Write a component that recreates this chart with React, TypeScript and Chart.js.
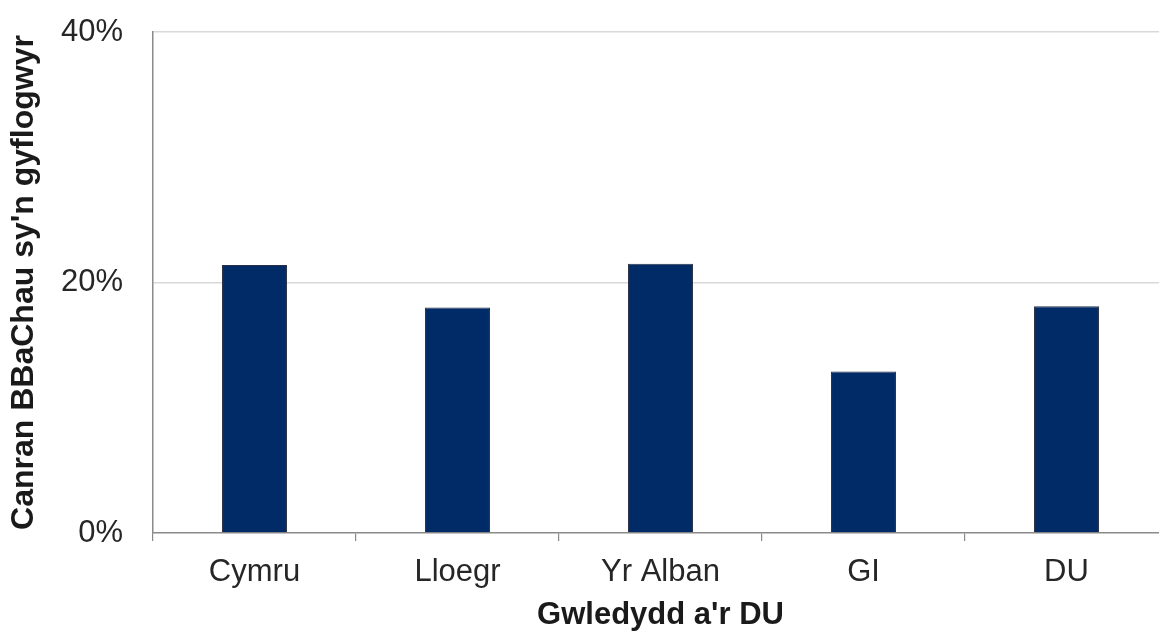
import React, { useEffect, useRef } from "react";
import { Chart, registerables } from "chart.js";

Chart.register(...registerables);

const categories = ["Cymru", "Lloegr", "Yr Alban", "GI", "DU"];
const values = [21.4, 18.0, 21.5, 12.9, 18.1];
const yTicks = [0, 20, 40];
const xTitle = "Gwledydd a'r DU";
const yTitle = "Canran BBaChau sy'n gyflogwyr";

export default function App() {
  const ref = useRef<HTMLCanvasElement | null>(null);
  useEffect(() => {
    if (!ref.current) return;
    const font = "'Liberation Sans', Arial, sans-serif";
    const chart = new Chart(ref.current, {
      type: "bar",
      data: {
        labels: categories,
        datasets: [
          {
            data: values,
            backgroundColor: "#012b66",
            borderColor: "#2a2f45",
            borderWidth: 1,
            categoryPercentage: 1,
            barPercentage: 0.32,
          },
        ],
      },
      options: {
        animation: false,
        responsive: false,
        maintainAspectRatio: false,
        layout: { padding: { top: 32, right: 0, bottom: 0, left: 0 } },
        plugins: { legend: { display: false }, tooltip: { enabled: false } },
        scales: {
          x: {
            afterFit: (s: any) => {
              s.height = 98;
              s.paddingLeft = 0;
              s.paddingRight = 0;
            },
            border: { display: true, color: "#8a8a8a", width: 1.5 },
            grid: {
              offset: true,
              drawOnChartArea: false,
              drawTicks: true,
              tickLength: 8,
              color: "#8a8a8a",
              lineWidth: 1.2,
            },
            ticks: {
              color: "#262626",
              font: { family: font, size: 31 },
              padding: 13,
            },
            title: {
              display: true,
              text: xTitle,
              color: "#1a1a1a",
              font: { family: font, size: 31, weight: "bold" },
              padding: { top: 0, bottom: -3 },
            },
          },
          y: {
            min: 0,
            max: 40,
            afterFit: (s: any) => {
              s.width = 153;
              s.paddingTop = 0;
              s.paddingBottom = 0;
            },
            afterBuildTicks: (s: any) => {
              s.ticks = yTicks.map((v) => ({ value: v }));
            },
            border: { display: true, color: "#8a8a8a", width: 1.5 },
            grid: {
              drawTicks: false,
              color: (ctx: any) => (ctx.tick && ctx.tick.value === 0 ? "rgba(0,0,0,0)" : "#d9d9d9"),
              lineWidth: 1.5,
            },
            ticks: {
              color: "#262626",
              font: { family: font, size: 31 },
              padding: 30,
              callback: (v: any) => v + "%",
            },
            title: {
              display: true,
              text: yTitle,
              color: "#1a1a1a",
              font: { family: font, size: 32, weight: "bold" },
              padding: { top: 5, bottom: 0 },
            },
          },
        },
      },
    });
    return () => chart.destroy();
  }, []);
  return (
    <div
      style={{
        position: "fixed",
        left: 0,
        top: 0,
        width: 1159,
        height: 631,
        overflow: "hidden",
        background: "#fff",
      }}
    >
      <canvas ref={ref} width={1168} height={631} style={{ display: "block" }} />
    </div>
  );
}
